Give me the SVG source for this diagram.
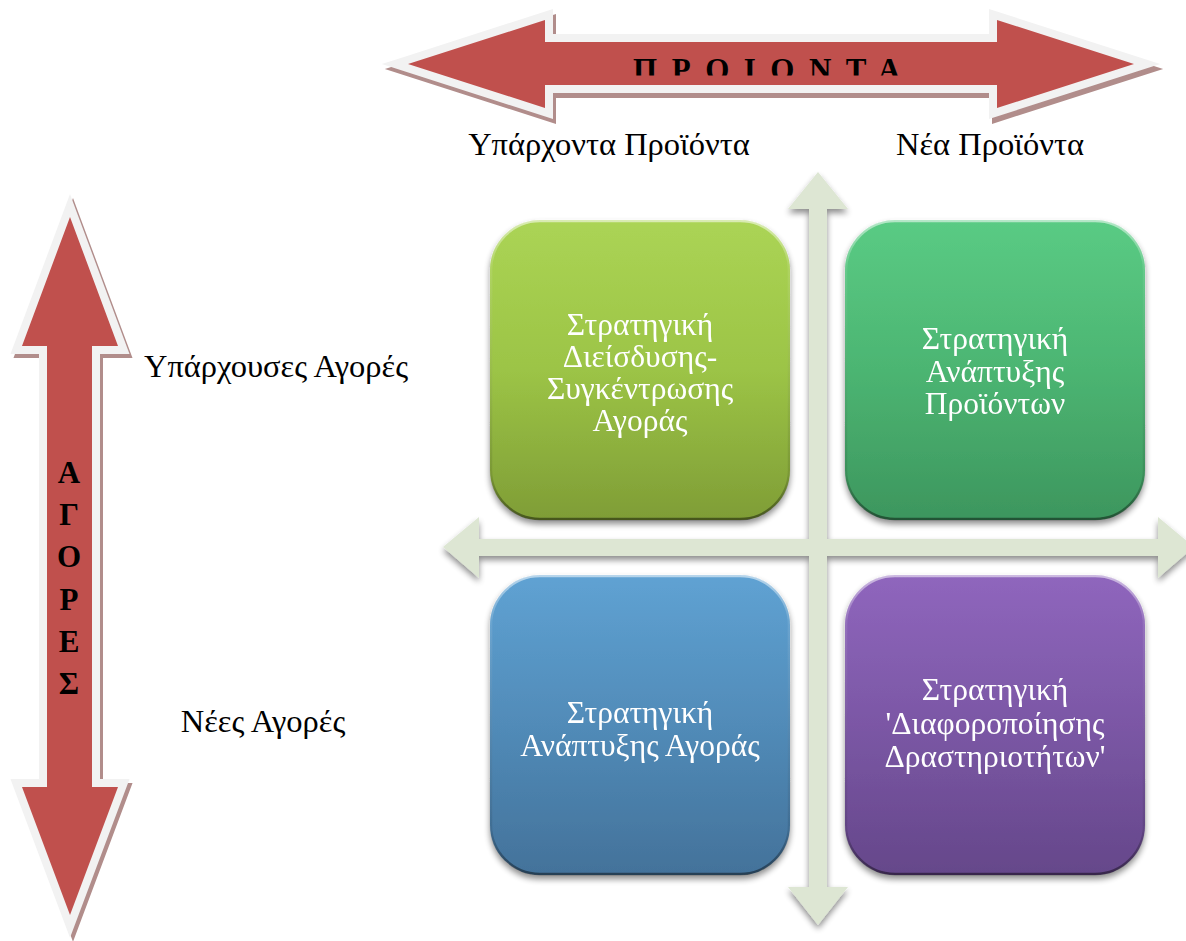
<svg xmlns="http://www.w3.org/2000/svg" width="1186" height="941" viewBox="0 0 1186 941">
  <defs>
    <style>
      .lbl { font-family: "Liberation Serif", "Times New Roman", serif; font-size: 32.5px; fill: #000; text-anchor: middle; }
      .box-txt { font-family: "Liberation Serif", "Times New Roman", serif; font-size: 31.5px; fill: #fff; text-anchor: middle; }
      .axis-txt { font-family: "Liberation Serif", "Times New Roman", serif; font-weight: bold; font-size: 31px; fill: #000; text-anchor: middle; }
      .red-border { fill: #f2f2f2; stroke: #f2f2f2; stroke-width: 16; stroke-linejoin: miter; }
      .red-shadow { fill: #b18d8b; stroke: #b18d8b; stroke-width: 16; stroke-linejoin: miter; }
      .red-body { fill: #c0504d; }
      .cross { fill: #dde6d3; }
    </style>
    <filter id="softShadow" x="-10%" y="-10%" width="120%" height="125%">
      <feGaussianBlur in="SourceAlpha" stdDeviation="3"/>
      <feOffset dx="0" dy="4" result="b"/>
      <feComponentTransfer><feFuncA type="linear" slope="0.45"/></feComponentTransfer>
      <feMerge><feMergeNode/><feMergeNode in="SourceGraphic"/></feMerge>
    </filter>
    <linearGradient id="gYellowGreen" x1="0" y1="0" x2="0" y2="1">
      <stop offset="0" stop-color="#abd455"/>
      <stop offset="0.5" stop-color="#9cc446"/>
      <stop offset="1" stop-color="#7f9d36"/>
    </linearGradient>
    <linearGradient id="gGreen" x1="0" y1="0" x2="0" y2="1">
      <stop offset="0" stop-color="#5acb84"/>
      <stop offset="0.5" stop-color="#4cb572"/>
      <stop offset="1" stop-color="#3d965e"/>
    </linearGradient>
    <linearGradient id="gBlue" x1="0" y1="0" x2="0" y2="1">
      <stop offset="0" stop-color="#5fa2d3"/>
      <stop offset="0.5" stop-color="#518bb8"/>
      <stop offset="1" stop-color="#43729a"/>
    </linearGradient>
    <linearGradient id="gPurple" x1="0" y1="0" x2="0" y2="1">
      <stop offset="0" stop-color="#8f66bd"/>
      <stop offset="0.5" stop-color="#7b57a5"/>
      <stop offset="1" stop-color="#65478a"/>
    </linearGradient>
    <linearGradient id="bevel" x1="0" y1="0" x2="0" y2="1">
      <stop offset="0" stop-color="#ffffff" stop-opacity="0.55"/>
      <stop offset="0.15" stop-color="#ffffff" stop-opacity="0.1"/>
      <stop offset="0.85" stop-color="#000000" stop-opacity="0.1"/>
      <stop offset="1" stop-color="#000000" stop-opacity="0.45"/>
    </linearGradient>
    <clipPath id="clipTopLabel">
      <rect x="560" y="40" width="420" height="35.5"/>
    </clipPath>
  </defs>

  <!-- red axis arrows -->
  <g id="axis-products">
    <polygon class="red-shadow" transform="translate(3,5)" points="408,64 545,20 545,42 997,42 997,20 1134,64 997,108 997,85 545,85 545,108"/>
    <polygon class="red-border" points="408,64 545,20 545,42 997,42 997,20 1134,64 997,108 997,85 545,85 545,108"/>
    <polygon class="red-body" points="408,64 545,20 545,42 997,42 997,20 1134,64 997,108 997,85 545,85 545,108"/>
    <text class="axis-txt" x="774" y="80" font-size="29" letter-spacing="14.5" clip-path="url(#clipTopLabel)">ΠΡΟΙΟΝΤΑ</text>
  </g>
  <g id="axis-markets">
    <polygon class="red-shadow" transform="translate(3,4)" points="70,217 118,346 92,346 92,787 118,787 70,915 22,787 47,787 47,346 22,346"/>
    <polygon class="red-border" points="70,217 118,346 92,346 92,787 118,787 70,915 22,787 47,787 47,346 22,346"/>
    <polygon class="red-body" points="70,217 118,346 92,346 92,787 118,787 70,915 22,787 47,787 47,346 22,346"/>
    <text class="axis-txt" x="69" y="483">Α</text>
    <text class="axis-txt" x="69" y="525">Γ</text>
    <text class="axis-txt" x="69" y="567">Ο</text>
    <text class="axis-txt" x="69" y="610">Ρ</text>
    <text class="axis-txt" x="69" y="652">Ε</text>
    <text class="axis-txt" x="69" y="694">Σ</text>
  </g>

  <!-- axis labels -->
  <g id="labels">
    <text class="lbl" x="609" y="155">Υπάρχοντα Προϊόντα</text>
    <text class="lbl" x="990" y="155">Νέα Προϊόντα</text>
    <text class="lbl" x="276" y="377">Υπάρχουσες Αγορές</text>
    <text class="lbl" x="263" y="732">Νέες Αγορές</text>
  </g>

  <!-- quadrant divider cross -->
  <g id="connectors" filter="url(#softShadow)">
    <polygon class="cross" points="818,172 848,209 827,209 827,887 848,887 818,925 788,887 809,887 809,209 788,209"/>
    <polygon class="cross" points="443,547 479,517 479,539 1158,539 1158,517 1194,547 1158,578 1158,556 479,556 479,578"/>
  </g>

  <!-- quadrants -->
  <g id="penetration" filter="url(#softShadow)">
    <rect x="490" y="220" width="300" height="300" rx="50" fill="url(#gYellowGreen)"/>
    <rect x="491" y="221" width="298" height="298" rx="49" fill="none" stroke="url(#bevel)" stroke-width="2.5"/>
    <text class="box-txt" x="640" y="335">Στρατηγική</text>
    <text class="box-txt" x="640" y="367">Διείσδυσης-</text>
    <text class="box-txt" x="640" y="399">Συγκέντρωσης</text>
    <text class="box-txt" x="640" y="431">Αγοράς</text>
  </g>
  <g id="product-development" filter="url(#softShadow)">
    <rect x="845" y="220" width="300" height="300" rx="50" fill="url(#gGreen)"/>
    <rect x="846" y="221" width="298" height="298" rx="49" fill="none" stroke="url(#bevel)" stroke-width="2.5"/>
    <text class="box-txt" x="995" y="349">Στρατηγική</text>
    <text class="box-txt" x="995" y="382">Ανάπτυξης</text>
    <text class="box-txt" x="995" y="414">Προϊόντων</text>
  </g>
  <g id="market-development" filter="url(#softShadow)">
    <rect x="490" y="575" width="300" height="300" rx="50" fill="url(#gBlue)"/>
    <rect x="491" y="576" width="298" height="298" rx="49" fill="none" stroke="url(#bevel)" stroke-width="2.5"/>
    <text class="box-txt" x="640" y="723">Στρατηγική</text>
    <text class="box-txt" x="640" y="756">Ανάπτυξης Αγοράς</text>
  </g>
  <g id="diversification" filter="url(#softShadow)">
    <rect x="845" y="575" width="300" height="300" rx="50" fill="url(#gPurple)"/>
    <rect x="846" y="576" width="298" height="298" rx="49" fill="none" stroke="url(#bevel)" stroke-width="2.5"/>
    <text class="box-txt" x="995" y="700">Στρατηγική</text>
    <text class="box-txt" x="995" y="734">'Διαφοροποίησης</text>
    <text class="box-txt" x="995" y="767">Δραστηριοτήτων'</text>
  </g>
</svg>
